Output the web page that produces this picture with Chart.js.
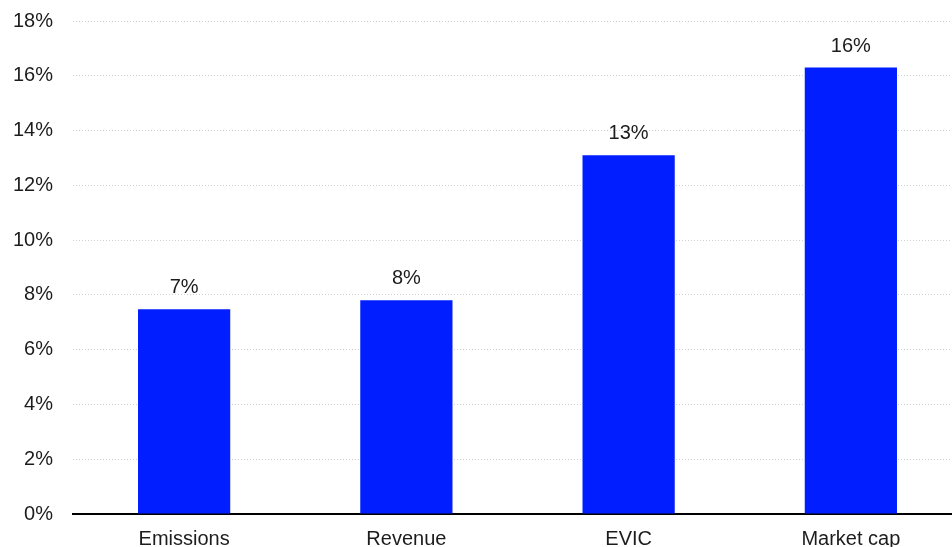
<!DOCTYPE html>
<html>
<head>
<meta charset="utf-8">
<script src="https://cdn.jsdelivr.net/npm/chart.js@4/dist/chart.umd.min.js"></script>
<style>
  html, body { margin: 0; padding: 0; background: #fff; overflow: hidden; }
  #wrap { width: 962px; height: 547px; }
</style>
</head>
<body>
<div id="wrap"><canvas id="c" width="962" height="547"></canvas></div>
<script>
const categories = ['Emissions', 'Revenue', 'EVIC', 'Market cap'];
const shares = [7.48, 7.8, 13.1, 16.3];
const yTicks = [0, 2, 4, 6, 8, 10, 12, 14, 16, 18];

const FONT = '"Liberation Sans", Arial, sans-serif';
const TEXT = '#1c1c1c';

// Percentage labels above each bar
const valueLabels = {
  id: 'valueLabels',
  afterDatasetsDraw(chart) {
    const ctx = chart.ctx;
    const meta = chart.getDatasetMeta(0);
    ctx.save();
    ctx.font = '20px ' + FONT;
    ctx.fillStyle = TEXT;
    ctx.textAlign = 'center';
    ctx.textBaseline = 'alphabetic';
    meta.data.forEach((bar, i) => {
      ctx.fillText(Math.round(shares[i]) + '%', bar.x, bar.y - 16);
    });
    ctx.restore();
  }
};

new Chart(document.getElementById('c'), {
  type: 'bar',
  data: {
    labels: categories,
    datasets: [{
      data: shares,
      backgroundColor: '#001EFF',
      borderWidth: 0,
      categoryPercentage: 1,
      barPercentage: 0.415
    }]
  },
  options: {
    responsive: false,
    animation: false,
    layout: { padding: { left: 12, top: 21, right: 0, bottom: 0 } },
    plugins: { legend: { display: false }, tooltip: { enabled: false } },
    scales: {
      x: {
        afterFit(scale) { scale.height = 33; scale.paddingLeft = 0; scale.paddingRight = 0; },
        grid: { display: false, drawTicks: false },
        border: { display: true, color: '#000', width: 2 },
        ticks: { color: TEXT, font: { family: FONT, size: 20 }, padding: 13, maxRotation: 0 }
      },
      y: {
        min: 0,
        max: 18,
        afterBuildTicks(scale) { scale.ticks = yTicks.map(v => ({ value: v })); },
        afterFit(scale) { scale.width = 61; scale.paddingTop = 0; scale.paddingBottom = 0; },
        grid: {
          color: '#cfcfcf',
          lineWidth: 1,
          drawTicks: false
        },
        border: { display: false, dash: [1, 2] },
        ticks: {
          color: TEXT,
          font: { family: FONT, size: 20 },
          padding: 20,
          callback: v => v + '%'
        }
      }
    }
  },
  plugins: [valueLabels]
});
</script>
</body>
</html>
